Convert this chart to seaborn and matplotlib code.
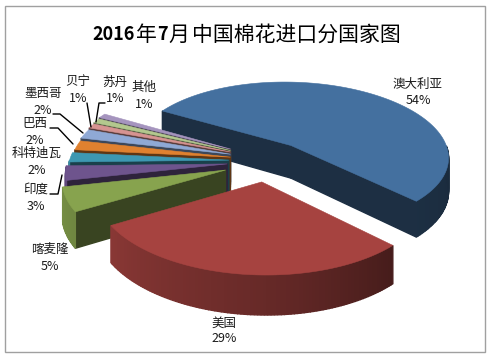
import numpy as np
import matplotlib
matplotlib.use('Agg')
import matplotlib.pyplot as plt
import seaborn as sns
from matplotlib.patches import Rectangle

countries = ['澳大利亚', '美国', '喀麦隆', '印度', '科特迪瓦', '巴西', '墨西哥', '贝宁', '苏丹', '其他']
shares = [54, 29, 5, 3, 2, 2, 2, 1, 1, 1]
colors = ['#44709F', '#A64340', '#87A34E', '#6E548D', '#3D98B2',
          '#E0812F', '#8FA9D5', '#D69391', '#B3C88E', '#A594BE']
# slice offsets on the pie plane (exploded look)
offsets = [(.38, .09), (.18, -.39), (-.04, -.24), (-.03, -.16), (-.02, -.11),
           (-.01, -.07), (-.01, -.03), (-.01, 0), (-.01, .02), (-.01, .04)]
label_pos = [(418, 84), (224, 323), (50, 249), (36, 189), (37, 153),
             (35, 124), (43, 93), (78, 82), (115, 82), (144, 87)]
pct_pos = [(418, 101), (224, 339), (50, 267), (36, 206), (37, 170),
           (35, 141), (43, 110), (78, 98), (115, 98), (144, 104)]
leaders = [[(50, 194), (58, 194), (62, 175)],
           [(50, 128), (58, 128), (73, 144)],
           [(53, 114), (60, 114), (83, 133)],
           [(87, 103), (91, 127)],
           [(105, 103), (99, 103), (96, 122)]]
# title pieces: text, left edge, bold
title_parts = [('2016', 92, True), ('年', 136, False), ('7', 157, True), ('月', 168, False),
               ('中国棉花进口分国家图', 192, False)]

sns.set_theme(style='white')
plt.rcParams['font.family'] = ['Noto Sans CJK SC', 'DejaVu Sans']

fig = plt.figure(figsize=(4.91, 3.58), dpi=100)
ax = fig.add_axes([0, 0, 1, 1])

# let the pie work out the angles, the tilted drawing is done from them
wedges, _ = ax.pie(shares, startangle=149, counterclock=False)
angles = [(w.theta1, w.theta2) for w in wedges]
for w in wedges:
    w.remove()
ax.set_aspect('auto')
ax.set_xlim(0, 491)
ax.set_ylim(358, 0)
ax.axis('off')

# tilted view of the pie plane
CX, CY, F, G, K, DEPTH = 232, 152, 157, 73, .126, 33


def project(x, y, drop=0):
    w = 1 + K * y
    return CX + F * x / w, CY - G * y / w + drop / w


def shade(color, f):
    return tuple(c * f for c in matplotlib.colors.to_rgb(color))


def draw_wall(p, q, color):
    a, b = project(*p), project(*q)
    c, d = project(*q, DEPTH), project(*p, DEPTH)
    ax.fill([a[0], b[0], c[0], d[0]], [a[1], b[1], c[1], d[1]],
            facecolor=color, edgecolor=color, lw=1)


def draw_slice(i):
    t1, t2 = angles[i]
    ox, oy = offsets[i]
    th = np.radians(np.linspace(t1, t2, max(int(t2 - t1), 4) + 1))
    rim = np.column_stack([ox + np.cos(th), oy + np.sin(th)])
    apex = (ox, oy)
    # flat cut sides that face the viewer
    if np.sin(th[-1] + np.pi / 2) < 0:
        draw_wall(apex, rim[-1], shade(colors[i], .42))
    if np.sin(th[0] - np.pi / 2) < 0:
        draw_wall(apex, rim[0], shade(colors[i], .42))
    # outer rim, darker to the right
    for j in range(len(rim) - 1):
        mid = (th[j] + th[j + 1]) / 2
        if np.sin(mid) < 0:
            f = np.interp(np.degrees(mid) % 360, [180, 210, 270, 315, 360],
                          [.9, .83, .62, .42, .38])
            draw_wall(rim[j], rim[j + 1], shade(colors[i], f))
    top = [project(*apex)] + [project(*p) for p in rim]
    ax.fill(*zip(*top), color=colors[i], lw=.4)


# back to front
for i in [0] + list(range(len(shares) - 1, 1, -1)) + [1]:
    draw_slice(i)

for name, share, lp, pp in zip(countries, shares, label_pos, pct_pos):
    ax.text(*lp, name, ha='center', va='center', fontsize=9, color='#1A1A1A')
    ax.text(*pp, f'{share}%', ha='center', va='center', fontsize=9, color='#1A1A1A')

for line in leaders:
    ax.plot(*zip(*line), color='black', lw=1)

for text, x, bold in title_parts:
    ax.text(x, 35, text, ha='left', va='center', fontsize=13 if bold else 15,
            fontweight='bold' if bold else 'medium', color='black')

ax.add_patch(Rectangle((5, 6), 480, 346, fill=False, edgecolor='#A0A0A0', lw=1))

fig.savefig('out.png', dpi=100)
